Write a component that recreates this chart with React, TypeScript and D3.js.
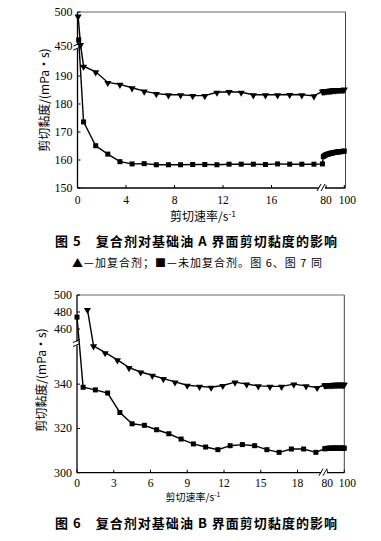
import React from "react";
import * as d3 from "d3";

// ---------- Data: Figure 5 (base oil A) ----------
const triA_x = [0.05, 0.25, 0.5, 1.5, 2.5, 3.5, 4.5, 5.5, 6.5, 7.5, 8.5, 9.5, 10.5, 11.5, 12.5, 13.5, 14.5, 15.5, 16.5, 17.5, 18.5, 19.5,
  76, 77, 78, 79, 80, 81, 82, 83, 84, 85, 86, 87, 88, 89, 90, 91, 92, 93, 94, 95, 96, 97, 98, 99, 100];
const triA_y = [494, 452, 193.5, 191.5, 187.7, 187, 185.8, 184.6, 183.7, 183.3, 183.3, 183, 183, 184.2, 184.4, 184.2, 183.3, 183.3, 183.3, 183.4, 183.3, 182.9,
  184.5, 184.6, 184.6, 184.7, 184.7, 184.8, 184.8, 184.8, 184.9, 184.9, 184.9, 185, 185, 185, 185, 185.1, 185.1, 185.1, 185.1, 185.2, 185.2, 185.2, 185.2, 185.2, 185.3];
const sqA_x = [0.1, 0.5, 1.5, 2.5, 3.5, 4.5, 5.5, 6.5, 7.5, 8.5, 9.5, 10.5, 11.5, 12.5, 13.5, 14.5, 15.5, 16.5, 17.5, 18.5, 19.5,
  76, 77, 78, 79, 80, 81, 82, 83, 84, 85, 86, 87, 88, 89, 90, 91, 92, 93, 94, 95, 96, 97, 98, 99, 100];
const sqA_y = [459, 173.6, 165.1, 162.1, 159.4, 158.6, 158.7, 158.3, 158.3, 158.3, 158.4, 158.4, 158.3, 158.5, 158.5, 158.5, 158.4, 158.6, 158.5, 158.5, 158.5,
  158.6, 161.2, 161.5, 161.7, 161.9, 162, 162.1, 162.2, 162.3, 162.4, 162.5, 162.5, 162.6, 162.7, 162.7, 162.8, 162.8, 162.9, 162.9, 163, 163, 163, 163.1, 163.1, 163.2];
const xTicksA = [0, 4, 8, 12, 16, 80, 100];
const yTicksA = [150, 160, 170, 180, 190, 450, 500];

// ---------- Data: Figure 6 (base oil B) ----------
const triB_x = [0.85, 1.35, 2.3, 3.3, 4.25, 5.2, 6.15, 7.05, 8, 9, 10, 10.95, 11.9, 12.9, 13.85, 14.8, 15.75, 16.7, 17.7, 18.7, 19.6,
  77, 78, 79, 80, 81, 82, 83, 84, 85, 86, 87, 88, 89, 90, 91, 92, 93, 94, 95, 96, 97, 98, 99, 100];
const triB_y = [483, 357.3, 354.2, 351, 347.5, 345.5, 344, 342.5, 341, 339.5, 339, 338.6, 339.4, 340.9, 340, 339.2, 339, 339, 340, 339.2, 338.5,
  339.6, 339.7, 339.7, 339.8, 339.7, 339.8, 339.8, 339.7, 339.8, 339.8, 339.9, 339.8, 339.8, 339.9, 339.8, 339.9, 339.9, 339.8, 339.9, 339.9, 339.9, 339.8, 339.9, 339.9];
const sqB_x = [0, 0.5, 1.5, 2.5, 3.5, 4.5, 5.5, 6.5, 7.5, 8.5, 9.5, 10.5, 11.5, 12.5, 13.5, 14.5, 15.5, 16.5, 17.5, 18.5, 19.5,
  77, 78, 79, 80, 81, 82, 83, 84, 85, 86, 87, 88, 89, 90, 91, 92, 93, 94, 95, 96, 97, 98, 99, 100];
const sqB_y = [474, 338.6, 337.4, 336, 327.2, 322.1, 321.4, 319.4, 317.6, 315.2, 313, 311.6, 310.4, 312.2, 312.7, 312.2, 310.4, 309.2, 310.7, 310.7, 309.2,
  310.8, 310.9, 310.9, 311, 311, 311, 311.1, 311, 311, 311.1, 311, 311.1, 311.1, 311, 311.1, 311.1, 311, 311.1, 311.1, 311, 311.1, 311.1, 311, 311.1];
const xTicksB = [0, 3, 6, 9, 12, 15, 18, 80, 100];
const yTicksB = [300, 320, 340, 460, 480, 500];

const CJK = "'Noto Sans CJK SC', sans-serif";
const SERIF = "'Liberation Serif', 'DejaVu Serif', serif";

type PanelProps = {
  xs: d3.ScaleLinear<number, number>;
  ys: d3.ScaleLinear<number, number>;
  left: number; right: number; top: number; bottom: number;
  xTicks: number[]; yTicks: number[];
  tri: [number[], number[]]; sq: [number[], number[]];
  xBreak: number; yBreak: number;
  xLabelX: number; xLabelY: number; xLabelSize: number;
  yLabelX: number; yLabelY: number;
  xTickY: number;
};

function Panel(p: PanelProps) {
  const line = d3.line<[number, number]>().x(d => p.xs(d[0])).y(d => p.ys(d[1]));
  const triPts: [number, number][] = p.tri[0].map((x, i) => [x, p.tri[1][i]]);
  const sqPts: [number, number][] = p.sq[0].map((x, i) => [x, p.sq[1][i]]);
  const triPath = d3.symbol().type(d3.symbolTriangle).size(22)();
  return (
    <g>
      {/* frame */}
      <line x1={p.left} x2={p.right} y1={p.top} y2={p.top} stroke="#666" strokeWidth={1} />
      <line x1={p.right} x2={p.right} y1={p.top} y2={p.bottom} stroke="#444" strokeWidth={1} />
      <line x1={p.left} x2={p.left} y1={p.top} y2={p.bottom} stroke="#000" strokeWidth={1.3} />
      <line x1={p.left} x2={p.right} y1={p.bottom} y2={p.bottom} stroke="#000" strokeWidth={1.3} />
      {/* x ticks */}
      {p.xTicks.map(t => (
        <g key={"xt" + t}>
          <line x1={p.xs(t)} x2={p.xs(t)} y1={p.bottom} y2={p.bottom - 3} stroke="#000" strokeWidth={1} />
          <text x={p.xs(t) + (t === 100 ? 3 : 0)} y={p.xTickY} textAnchor="middle" dominantBaseline="central" fontFamily={SERIF} fontSize={11.5}>{t}</text>
        </g>
      ))}
      {/* y ticks */}
      {p.yTicks.map(t => (
        <g key={"yt" + t}>
          <line x1={p.left} x2={p.left + 3} y1={p.ys(t)} y2={p.ys(t)} stroke="#000" strokeWidth={1} />
          <text x={p.left - 5} y={p.ys(t)} textAnchor="end" dominantBaseline="central" fontFamily={SERIF} fontSize={12}>{t}</text>
        </g>
      ))}
      {/* breaks */}
      <rect x={p.xBreak - 3} y={p.bottom - 2} width={6} height={4} fill="#fff" />
      <line x1={p.xBreak - 5} x2={p.xBreak - 1} y1={p.bottom + 3} y2={p.bottom - 4} stroke="#000" strokeWidth={1} />
      <line x1={p.xBreak - 1} x2={p.xBreak + 3} y1={p.bottom + 3} y2={p.bottom - 4} stroke="#000" strokeWidth={1} />
      <rect x={p.left - 2} y={p.yBreak - 2} width={4} height={4} fill="#fff" />
      <line x1={p.left - 4} x2={p.left + 3} y1={p.yBreak - 1} y2={p.yBreak - 4} stroke="#000" strokeWidth={1} />
      <line x1={p.left - 4} x2={p.left + 3} y1={p.yBreak + 3} y2={p.yBreak} stroke="#000" strokeWidth={1} />
      {/* series */}
      <path d={line(triPts) || ""} fill="none" stroke="#000" strokeWidth={1.4} />
      <path d={line(sqPts) || ""} fill="none" stroke="#000" strokeWidth={1.4} />
      {triPts.map((d, i) => (
        <path key={"t" + i} d={triPath || ""} transform={`translate(${p.xs(d[0])},${p.ys(d[1]) + 0.5}) rotate(180)`} fill="#000" />
      ))}
      {sqPts.map((d, i) => (
        <rect key={"s" + i} x={p.xs(d[0]) - 2.5} y={p.ys(d[1]) - 2.5} width={5} height={5} fill="#000" />
      ))}
      {/* axis labels */}
      <text x={p.xLabelX} y={p.xLabelY} textAnchor="middle" fontFamily={CJK} fontSize={p.xLabelSize}>
        剪切速率/s<tspan dy={-4} fontSize={p.xLabelSize * 0.7}>-1</tspan>
      </text>
      <text transform={`translate(${p.yLabelX},${p.yLabelY}) rotate(-90)`} textAnchor="middle" dominantBaseline="central" fontFamily={CJK} fontSize={12}>
        剪切黏度/(mPa·s)
      </text>
    </g>
  );
}

export default function App() {
  const xsA = d3.scaleLinear().domain([0, 20, 75, 100]).range([77.5, 320, 321.5, 344.3]);
  const ysA = d3.scaleLinear().domain([150, 200, 450, 500]).range([188, 48, 46, 12]);
  const xsB = d3.scaleLinear().domain([0, 20, 75, 100]).range([77, 322, 323, 344.3]);
  const ysB = d3.scaleLinear().domain([300, 358, 444, 500]).range([472.7, 344.3, 342.6, 295]);
  return (
    <svg width={381} height={541} style={{ position: "absolute", left: 0, top: 0, background: "#fff" }}>
      <rect width={381} height={541} fill="#fff" />
      <Panel xs={xsA} ys={ysA} left={77.5} right={345.5} top={12} bottom={188}
        xTicks={xTicksA} yTicks={yTicksA} tri={[triA_x, triA_y]} sq={[sqA_x, sqA_y]}
        xBreak={322} yBreak={47} xLabelX={203} xLabelY={220.5} xLabelSize={12}
        yLabelX={43} yLabelY={100} xTickY={199.5} />
      <text x={55} y={246} textLength={282} lengthAdjust="spacing" fontFamily={CJK} fontWeight={700} fontSize={13}>图 5　复合剂对基础油 A 界面剪切黏度的影响</text>
      <text x={72} y={266.5} textLength={250} lengthAdjust="spacing" fontFamily={CJK} fontSize={11}>▲—加复合剂；■—未加复合剂。图 6、图 7 同</text>
      <Panel xs={xsB} ys={ysB} left={77} right={344.3} top={295} bottom={472.7}
        xTicks={xTicksB} yTicks={yTicksB} tri={[triB_x, triB_y]} sq={[sqB_x, sqB_y]}
        xBreak={324} yBreak={343.5} xLabelX={193} xLabelY={501} xLabelSize={10}
        yLabelX={40} yLabelY={380} xTickY={483} />
      <text x={55} y={527.5} textLength={282} lengthAdjust="spacing" fontFamily={CJK} fontWeight={700} fontSize={13}>图 6　复合剂对基础油 B 界面剪切黏度的影响</text>
    </svg>
  );
}
